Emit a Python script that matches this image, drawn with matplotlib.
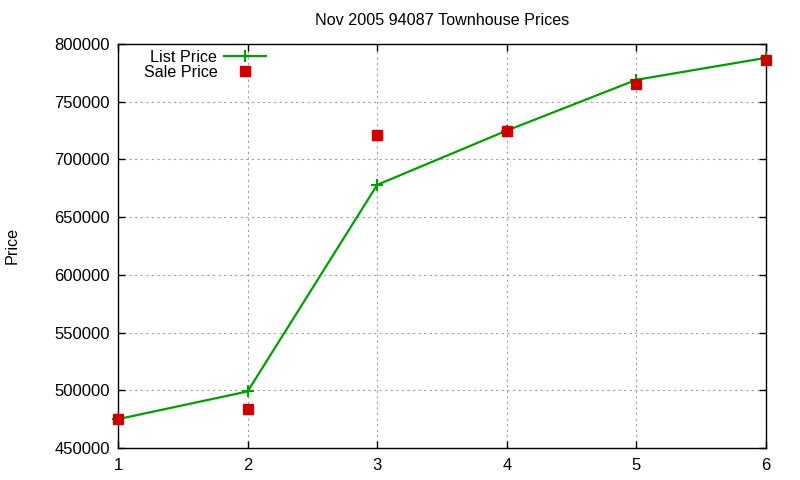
import matplotlib
matplotlib.use("Agg")
import matplotlib.pyplot as plt

x = [1, 2, 3, 4, 5, 6]
list_price = [475000, 499000, 678000, 725000, 769000, 788000]
sale_price = [475000, 484000, 721000, 725000, 765000, 786000]
yticks = [450000, 500000, 550000, 600000, 650000, 700000, 750000, 800000]

plt.rcParams['font.family'] = ['Liberation Sans', 'DejaVu Sans']
plt.rcParams['font.size'] = 11.6

fig = plt.figure(figsize=(8, 4.8), dpi=100)
ax = fig.add_axes([118/800, 32/480, (766-118)/800, (448-44)/480])

ax.plot(x, list_price, color='#00a000', lw=1.6, marker='+', ms=8, mew=1.5,
        label='List Price', clip_on=False, zorder=3)
ax.plot(x, sale_price, ls='none', color='#cc0000', marker='s', ms=6.5,
        label='Sale Price', clip_on=False, zorder=4)

ax.set_xlim(1, 6)
ax.set_ylim(450000, 800000)
ax.set_xticks(x)
ax.set_yticks(yticks)
ax.set_yticklabels([str(v) for v in yticks])
ax.tick_params(direction='in', top=True, right=True, length=5, width=1, labelsize=12)
ax.tick_params(axis='x', pad=7)
ax.tick_params(axis='y', pad=6)
ax.grid(True, color='#a0a0a0', ls=(0, (2, 3)), lw=0.8)
for s in ax.spines.values():
    s.set_linewidth(1)

ax.set_title('Nov 2005 94087 Townhouse Prices', fontsize=11.6, pad=14)
fig.text(12/800, 1 - 246/480, 'Price', rotation=90, va='center', ha='center', fontsize=11.6)

leg = ax.legend(loc='upper left', bbox_to_anchor=(0.022, 1.013), frameon=False,
                markerfirst=False, handlelength=2.6, handletextpad=0.4,
                labelspacing=0.0, borderpad=0.2, fontsize=11.6)

fig.savefig('out.png', dpi=100)
